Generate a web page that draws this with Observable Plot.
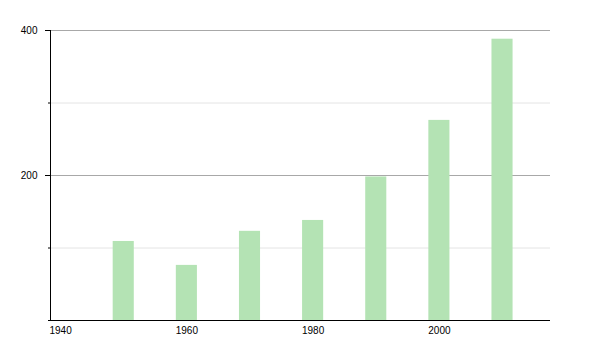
<!DOCTYPE html>
<html><head><meta charset="utf-8">
<script src="https://cdn.jsdelivr.net/npm/d3@7"></script>
<script src="https://cdn.jsdelivr.net/npm/@observablehq/plot@0.6"></script>
<style>body{margin:0;background:#fff;}</style>
</head><body><div id="chart"></div>
<script>
const years = [1950, 1960, 1970, 1980, 1990, 2000, 2010];
const values = [109, 76, 123, 138, 198, 276, 388];
const xTicks = [1940, 1960, 1980, 2000];
const yMajor = [200, 400];
const yMinor = [100, 300];
const xDomain = [1938.4, 2017.6];
const data = years.map((y, i) => ({year: y, value: values[i]}));
const halfWidth = 1.67;
const chart = Plot.plot({
  width: 600, height: 350,
  marginLeft: 50, marginRight: 50, marginTop: 30, marginBottom: 30,
  style: {fontFamily: "'Liberation Sans', Arial, sans-serif", fontSize: "10px", color: "#000", background: "#fff"},
  x: {type: "linear", domain: xDomain},
  y: {domain: [0, 400]},
  marks: [
    Plot.ruleY(yMinor, {stroke: "#e4e4e4"}),
    Plot.ruleY(yMajor, {stroke: "#a8a8a8"}),
    Plot.rectY(data, {x1: d => d.year - halfWidth, x2: d => d.year + halfWidth, y1: 0, y2: "value", fill: "#b4e3b4"}),
    Plot.axisY(yMajor, {tickSize: 5, tickPadding: 8, label: null, stroke: "#000"}),
    Plot.axisY(yMinor, {tickSize: 2, text: null, label: null, stroke: "#000"}),
    Plot.axisX(xTicks, {tickSize: 0, tickPadding: 6, label: null, tickFormat: d => String(d)}),
    Plot.ruleX([xDomain[0]], {y1: 0, y2: 400, stroke: "#000"}),
    Plot.ruleY([0], {stroke: "#000", insetLeft: -2})
  ]
});
document.getElementById("chart").appendChild(chart);
</script>
</body></html>
